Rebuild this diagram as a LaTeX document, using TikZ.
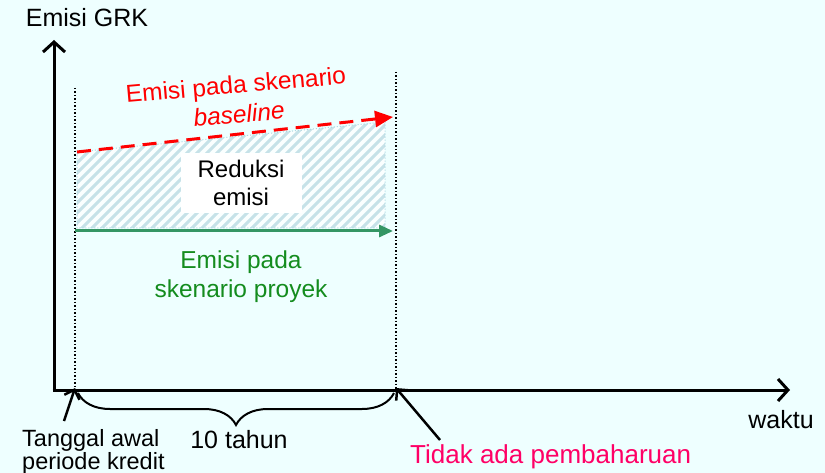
\documentclass[tikz,border=0pt]{standalone}
\usepackage{fontspec}
\setmainfont{Liberation Sans}
\usetikzlibrary{arrows.meta,decorations.pathreplacing}
\definecolor{bgc}{RGB}{238,255,255}
\definecolor{redc}{RGB}{255,0,0}
\definecolor{greenl}{RGB}{52,150,100}
\definecolor{greent}{RGB}{20,140,30}
\definecolor{pinkc}{RGB}{255,0,102}
\definecolor{hatchc}{RGB}{198,226,232}
\definecolor{hborder}{RGB}{170,215,225}
\tikzset{
  txt/.style={inner sep=0pt, font=\fontsize{25}{28}\selectfont},
  axisline/.style={line width=3pt, -{Straight Barb[length=10pt,width=22pt,line width=3pt]}},
  pointer/.style={line width=2.5pt, -{Straight Barb[length=8pt,width=16pt,line width=2.5pt]}},
  guide/.style={line width=1.5pt, dotted},
}
\begin{document}
\begin{tikzpicture}[x=1pt,y=-1pt]
\useasboundingbox[fill=bgc] (0,0) rectangle (825,473);
% coordinates
\coordinate (O) at (54,390);
\coordinate (ytop) at (54,40);
\coordinate (xend) at (790,390);
\coordinate (s0) at (75,390);
\coordinate (s1) at (396,390);
\coordinate (g0top) at (75,88);
\coordinate (g1top) at (396,72);
% hatched region
\begin{scope}
  \clip (77,152) -- (385,122) -- (385,228) -- (77,228) -- cycle;
  \fill[white!70!bgc] (0,0) rectangle (420,260);
  \foreach \i in {-300,-290,...,420} {
    \draw[hatchc, line width=3pt] (\i,240) -- (\i+130,110);
  }
\end{scope}
\draw[hborder, line width=1pt, dotted] (77,152) -- (385,122) -- (385,228) -- (77,228) -- cycle;
% guides
\draw[guide] (g0top) -- (s0);
\draw[guide] (g1top) -- (s1);
% axes
\draw[axisline] (O) -- (ytop);
\draw[line width=3pt] (O) -- ++(0,1.5);
\draw[axisline] ([xshift=-1.5pt]O) -- (xend);
% baseline arrow
\coordinate (r0) at (77,152);
\coordinate (r1) at (393,117);
\draw[redc, line width=3pt, dash pattern=on 14pt off 8pt, -{Triangle[length=18pt,width=16pt]}] (r0) -- (r1);
% project arrow
\coordinate (p0) at (75,231);
\coordinate (p1) at (393,231);
\draw[greenl, line width=3pt, -{Triangle[length=14pt,width=12pt]}] (p0) -- (p1);
% labels
\node[txt] (ylab) at (87,18) {Emisi GRK};
\node[txt, text=redc, rotate=5, font=\fontsize{24.5}{27}\selectfont] (base1) at (236,87) {Emisi pada skenario};
\node[txt, text=redc, rotate=5, font=\fontsize{24.5}{27}\itshape] (base2) at (239,114) {baseline};
\node[txt, fill=white, align=center, minimum width=121pt, minimum height=60pt, font=\fontsize{24}{28}\selectfont] (red) at (241,183) {Reduksi\\emisi};
\node[txt, text=greent, align=center, font=\fontsize{24.5}{29}\selectfont] (proj) at (241,277) {Emisi pada\\skenario proyek};
\node[txt] (waktu) at (781,420) {waktu};
\node[txt] (ten) at (239,440) {10 tahun};
\node[txt, align=left, anchor=north west, font=\fontsize{23.5}{21}\selectfont] (tang) at (22,429) {Tanggal awal\\periode kredit};
\node[txt, text=pinkc, anchor=west, font=\fontsize{26}{28}\selectfont] (tidak) at (410,457) {Tidak ada pembaharuan};
% brace
\coordinate (b0) at (78,393);
\coordinate (b1) at (394,393);
\draw[line width=2pt, decorate, decoration={brace, mirror, amplitude=32pt, aspect=0.5}] (b0) -- (b1);
% pointers
\coordinate (t0) at (64,421);
\coordinate (t1) at (440,440);
\draw[pointer] (t0) -- ([yshift=2pt]s0);
\draw[pointer] (t1) -- ([yshift=2pt]s1);
\end{tikzpicture}
\end{document}
